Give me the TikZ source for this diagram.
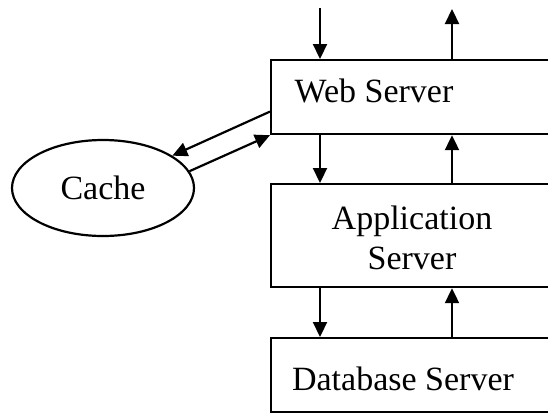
\documentclass[tikz,border=0pt]{standalone}
\usepackage{fontspec}
\setmainfont{Liberation Serif}
\usetikzlibrary{shapes.geometric,arrows.meta,calc}
\begin{document}
\begin{tikzpicture}[x=1pt,y=-1pt,
  line width=2.2pt,
  box/.style={draw,rectangle,line width=2.2pt,minimum width=300pt,anchor=north west,inner sep=0pt},
  lbl/.style={font=\fontsize{34}{40}\selectfont,inner sep=0pt,anchor=base,align=center},
  arr/.style={-{Triangle[length=15pt,width=14pt]},line width=2.2pt}]
\useasboundingbox (0,0) rectangle (548,413);
\clip (0,0) rectangle (548,413);
\fill[white] (0,0) rectangle (548,413);
% boxes
\node[box,minimum height=74pt] (web) at (270,59) {};
\node[box,minimum height=103pt] (app) at (270,183) {};
\node[box,minimum height=74pt] (db) at (270,337) {};
\node[draw,ellipse,line width=2.2pt,minimum width=182pt,minimum height=96pt,inner sep=0pt,
  font=\fontsize{34}{40}\selectfont] (cache) at (103,188) {Cache};
% labels
\node[lbl] (webtxt) at (374,102) {Web Server};
\node[lbl] (apptxt1) at (412,229) {Application};
\node[lbl] (apptxt2) at (412,269) {Server};
\node[lbl] (dbtxt) at (403,390) {Database Server};
% columns
\coordinate (L) at (320,0);
\coordinate (R) at (452,0);
\coordinate (inTop) at (320,8);
\coordinate (outTop) at (452,9);
% vertical arrows
\draw[arr] (inTop) -- (web.north -| L);
\draw[arr] (web.north -| R) -- (outTop);
\draw[arr] (web.south -| L) -- (app.north -| L);
\draw[arr] (app.north -| R) -- (web.south -| R);
\draw[arr] (app.south -| L) -- (db.north -| L);
\draw[arr] (db.north -| R) -- (app.south -| R);
% cache arrows
\coordinate (wl) at ($(web.north west)!0.69!(web.south west)$);
\draw[arr] (wl) -- (cache.25);
\draw[arr] (cache.11) -- (web.south west);
\end{tikzpicture}
\end{document}
